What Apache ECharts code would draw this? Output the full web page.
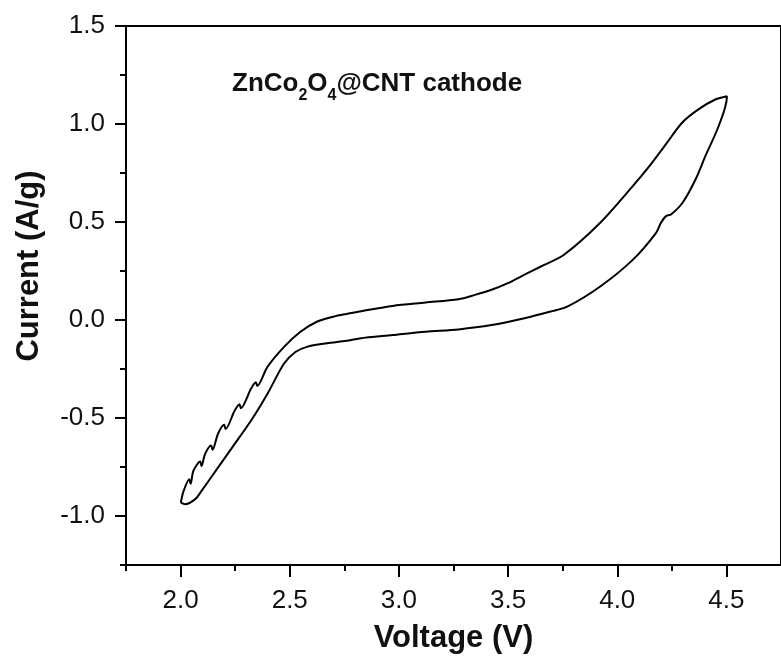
<!DOCTYPE html>
<html>
<head>
<meta charset="utf-8">
<script src="https://cdn.jsdelivr.net/npm/echarts@6/dist/echarts.min.js"></script>
<style>
  html, body { margin: 0; padding: 0; background: #fff; }
  #cvChart { width: 781px; height: 659px; }
</style>
</head>
<body>
<div id="cvChart"></div>
<script>
// forward scan (upper branch)
var fwdVoltage = [2.001, 2.014, 2.040, 2.046, 2.059, 2.090, 2.096, 2.112, 2.140, 2.146, 2.172, 2.200, 2.206,
  2.248, 2.270, 2.276, 2.323, 2.345, 2.351, 2.398, 2.474, 2.549, 2.624, 2.700, 2.760, 2.820, 2.971, 3.122,
  3.273, 3.348, 3.424, 3.499, 3.575, 3.650, 3.756, 3.922, 4.072, 4.148, 4.223, 4.299, 4.375, 4.449, 4.502];
var fwdCurrent = [-0.932, -0.872, -0.812, -0.836, -0.769, -0.722, -0.745, -0.684, -0.640, -0.662, -0.579, -0.535, -0.556,
  -0.462, -0.430, -0.450, -0.350, -0.318, -0.336, -0.239, -0.137, -0.060, -0.009, 0.017, 0.031, 0.043, 0.072, 0.089,
  0.106, 0.128, 0.154, 0.188, 0.231, 0.273, 0.333, 0.496, 0.684, 0.786, 0.897, 1.009, 1.077, 1.125, 1.142];

// reverse scan (lower branch)
var revVoltage = [4.502, 4.465, 4.404, 4.359, 4.299, 4.246, 4.223, 4.200, 4.178, 4.072, 3.922, 3.771, 3.695,
  3.575, 3.424, 3.273, 3.122, 2.971, 2.820, 2.760, 2.670, 2.579, 2.526, 2.474, 2.398, 2.323, 2.248, 2.172,
  2.096, 2.067, 2.021, 2.001];
var revCurrent = [1.137, 0.991, 0.837, 0.718, 0.598, 0.538, 0.530, 0.496, 0.445, 0.308, 0.171, 0.068, 0.043,
  0.009, -0.026, -0.048, -0.060, -0.077, -0.094, -0.106, -0.119, -0.137, -0.163, -0.222, -0.376, -0.513, -0.632, -0.752,
  -0.872, -0.914, -0.940, -0.932];

// tick positions
var xMajor = [2.0, 2.5, 3.0, 3.5, 4.0, 4.5];
var xMinor = [1.75, 2.25, 2.75, 3.25, 3.75, 4.25];
var yMajor = [-1.0, -0.5, 0.0, 0.5, 1.0, 1.5];
var yMinor = [-1.25, -0.75, -0.25, 0.25, 0.75, 1.25];

window.onload = function () {
  var chart = echarts.init(document.getElementById('cvChart'));
  var font = '"Liberation Sans", Arial, sans-serif';

  var loop = [];
  for (var k = 0; k < fwdVoltage.length; k++) loop.push([fwdVoltage[k], fwdCurrent[k]]);
  for (var j = 0; j < revVoltage.length; j++) loop.push([revVoltage[j], revCurrent[j]]);

  var fmt = function (v) { return v.toFixed(1); };

  var option = {
    backgroundColor: '#fff',
    animation: false,
    grid: {
      left: 126, top: 26, right: -8, bottom: 93,
      show: true, borderColor: '#000', borderWidth: 2
    },
    xAxis: [{
      type: 'value', min: 1.75, max: 4.75, interval: 0.25, position: 'bottom',
      axisLine: { show: true, onZero: false, lineStyle: { color: '#000', width: 2 } },
      axisTick: { show: true, inside: false, length: 12, customValues: xMajor, lineStyle: { color: '#000', width: 2 } },
      axisLabel: { customValues: xMajor, formatter: fmt, fontSize: 26, color: '#111', margin: 23, fontFamily: font },
      splitLine: { show: false },
      name: 'Voltage (V)', nameLocation: 'middle', nameGap: 58,
      nameTextStyle: { fontSize: 31, fontWeight: 'bold', color: '#111', fontFamily: font }
    }, {
      type: 'value', min: 1.75, max: 4.75, interval: 0.25, position: 'bottom',
      axisLine: { show: false, onZero: false },
      axisTick: { show: true, inside: false, length: 6, customValues: xMinor, lineStyle: { color: '#000', width: 2 } },
      axisLabel: { show: false },
      splitLine: { show: false }
    }],
    yAxis: [{
      type: 'value', min: -1.25, max: 1.5, interval: 0.25, position: 'left',
      axisLine: { show: true, onZero: false, lineStyle: { color: '#000', width: 2 } },
      axisTick: { show: true, inside: false, length: 11, customValues: yMajor, lineStyle: { color: '#000', width: 2 } },
      axisLabel: { customValues: yMajor, formatter: fmt, fontSize: 26, color: '#111', margin: 21, fontFamily: font },
      splitLine: { show: false }
    }, {
      type: 'value', min: -1.25, max: 1.5, interval: 0.25, position: 'left',
      axisLine: { show: false, onZero: false },
      axisTick: { show: true, inside: false, length: 6, customValues: yMinor, lineStyle: { color: '#000', width: 2 } },
      axisLabel: { show: false },
      splitLine: { show: false }
    }],
    graphic: [{
      type: 'text', x: 29, y: 266, rotation: Math.PI / 2,
      style: {
        text: 'Current (A/g)', fill: '#111', align: 'center', verticalAlign: 'middle',
        font: 'bold 31px ' + font
      }
    }, {
      type: 'text', x: 232, y: 71,
      style: {
        text: '{m|ZnCo}{s|2}{m|O}{s|4}{m|@CNT cathode}',
        align: 'left', verticalAlign: 'top',
        rich: {
          m: { fontSize: 26, fontWeight: 'bold', fontFamily: font, fill: '#111', lineHeight: 26, verticalAlign: 'top' },
          s: { fontSize: 16, fontWeight: 'bold', fontFamily: font, fill: '#111', lineHeight: 33, verticalAlign: 'bottom' }
        }
      }
    }],
    series: [{
      type: 'line',
      xAxisIndex: 0, yAxisIndex: 0,
      data: loop,
      showSymbol: false,
      smooth: 0.3,
      lineStyle: { color: '#000', width: 2 }
    }]
  };

  chart.setOption(option);
};
</script>
</body>
</html>
